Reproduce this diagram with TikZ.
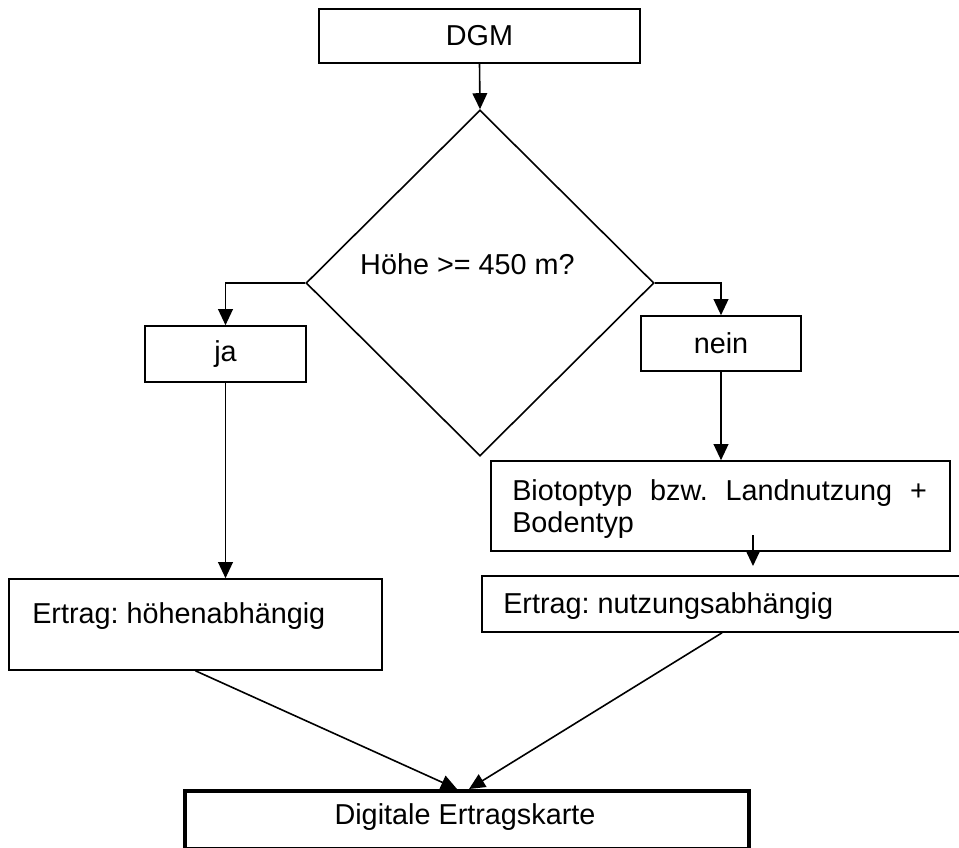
\documentclass[tikz,border=0pt]{standalone}
\usepackage{fontspec}
\setmainfont{Liberation Sans}
\frenchspacing
\usetikzlibrary{shapes.geometric,arrows.meta}
\tikzset{
  box/.style={draw=black,line width=1.2pt,fill=white,inner sep=0pt,rectangle},
  thickbox/.style={box,line width=3pt},
  decision/.style={draw=black,line width=1.2pt,diamond,inner sep=0pt,minimum width=261pt,minimum height=259.5pt},
  txt/.style={inner sep=0pt,font=\fontsize{21.6pt}{24pt}\selectfont},
  conn/.style={line width=1.2pt,-{Triangle[length=12pt,width=11pt]}},
  every node/.style={font=\fontsize{21.6pt}{24pt}\selectfont}
}
\begin{document}
\begin{tikzpicture}[x=0.75pt,y=-0.75pt]
\useasboundingbox (0,0) rectangle (959,847);
\clip (0,0) rectangle (959,847);
\fill[white] (0,0) rectangle (959,847);

% boxes
\node[box,minimum width=240.75pt,minimum height=40.5pt] (dgm) at (479.5,36) {DGM};
\node[decision] (dec) at (480,283) {};
\node[txt,anchor=base] (dectxt) at (467.5,274) {Höhe >= 450 m?};
\node[box,minimum width=120.75pt,minimum height=42pt] (ja) at (225.5,354) {ja};
\node[box,minimum width=120pt,minimum height=41.25pt] (nein) at (721,343.5) {nein};
\node[box,minimum width=344.25pt,minimum height=67.5pt] (biotop) at (720.5,506) {};
\node[txt,anchor=base west] (biotxt1) at (512,500) {\makebox[311pt][s]{Biotoptyp bzw. Landnutzung +}};
\node[txt,anchor=base west] (biotxt2) at (512,532) {Bodentyp};
\node[box,minimum width=360pt,minimum height=42pt] (nutz) at (722,604) {};
\node[txt,anchor=base west] (nutztxt) at (503,613) {Ertrag: nutzungsabhängig};
\node[box,minimum width=279.75pt,minimum height=68.25pt] (hoehe) at (195.5,624.5) {};
\node[txt,anchor=base west] (hoehetxt) at (32,623) {Ertrag: höhenabhängig};
\node[thickbox,minimum width=423pt,minimum height=43.5pt] (karte) at (467,820) {};
\node[txt] (kartetxt) at (465,817) {Digitale Ertragskarte};

% coordinates
\coordinate (b1) at (753,535);
\coordinate (b2) at (753,566);
\coordinate (dL) at (457,789);
\coordinate (dR) at (469,789);

% connectors
\draw[conn] (dgm.south) -- (dec.north);
\draw[conn] (dec.west) -| (ja.north);
\draw[conn] (dec.east) -| (nein.north);
\draw[conn] (ja.south) -- (ja.south |- hoehe.north);
\draw[conn] (nein.south) -- (nein.south |- biotop.north);
\draw[conn] (b1) -- (b2);
\draw[conn] (hoehe.south) -- (dL);
\draw[conn] (nutz.south) -- (dR);
\end{tikzpicture}
\end{document}
